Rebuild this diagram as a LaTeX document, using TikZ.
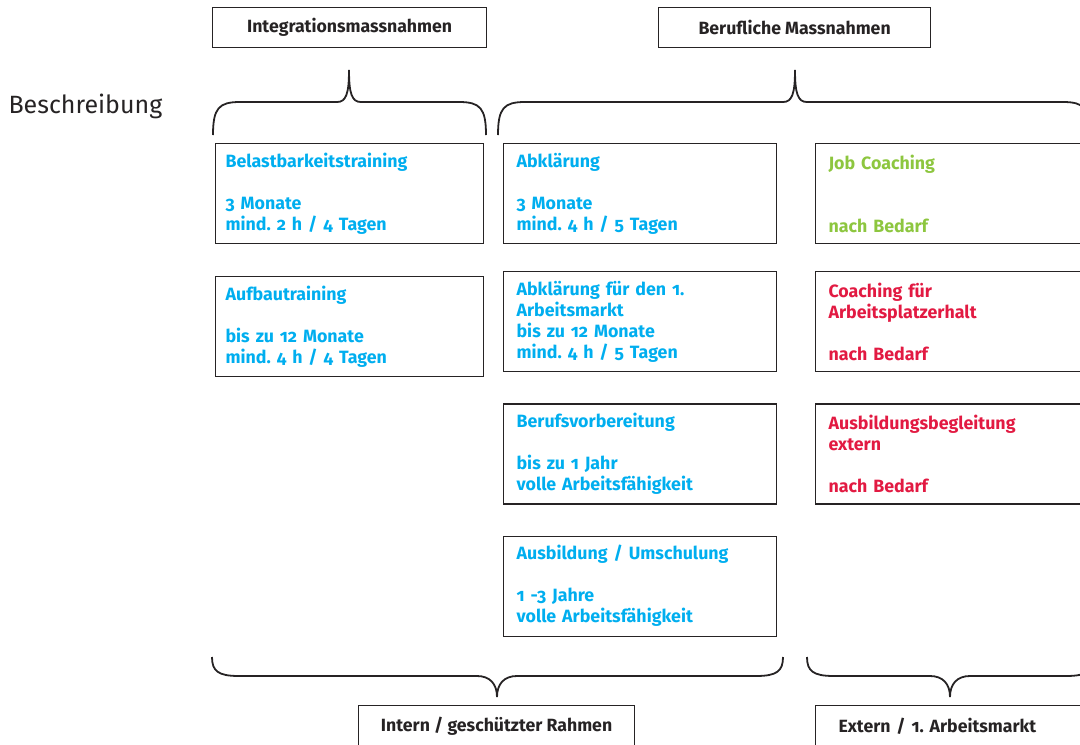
\documentclass[tikz,border=0pt]{standalone}
\usepackage{fontspec}
\setmainfont{Fira Sans}[Numbers=OldStyle]
\frenchspacing
\usetikzlibrary{positioning}
\definecolor{ablau}{RGB}{0,174,239}
\definecolor{agruen}{RGB}{141,198,63}
\definecolor{arot}{RGB}{226,26,66}
\definecolor{agrau}{RGB}{38,35,36}
\tikzset{
  massnahme/.style = {draw=agrau, line width=1.2pt, anchor=north west, align=left,
    minimum height=100pt, inner xsep=13pt, inner ysep=0pt,
    font=\bfseries\fontsize{17.8}{21}\selectfont},
  intern/.style = {massnahme, text width=248pt, inner xsep=10pt, text=ablau},
  beruf/.style = {massnahme, text width=247pt, text=ablau},
  extern/.style = {massnahme, text width=247pt},
  titel/.style = {draw=agrau, line width=1.2pt, anchor=north west,
    minimum height=40pt, text=agrau, font=\bfseries\fontsize{17.7}{20}\selectfont},
  klammer/.style = {draw=agrau, line width=1.8pt}
}

\begin{document}
\begin{tikzpicture}[x=1pt, y=-1pt, node distance=31pt]
\useasboundingbox (0,0) rectangle (1080,745);
\clip (0,0) rectangle (1080,745);

% Kopf
\node [titel, minimum width=274pt] (integration) at (212,7) {Integrationsmassnahmen};
\node [titel, minimum width=272pt] (beruflich) at (658,7) {Berufliche Massnahmen};
\node [anchor=base west, text=agrau, font=\fontsize{25}{30}\selectfont]
  (beschreibung) at (5,113) {Beschreibung};

% Klammern oben
\draw [klammer] (213,135) .. controls (213,108) and (219,102) .. (240,102) -- (337,102)
  .. controls (346,102) and (349,94) .. (349,70) .. controls (349,94) and (352,102) .. (361,102)
  -- (459,102) .. controls (480,102) and (486,108) .. (486,135);
\draw [klammer] (498,135) .. controls (498,108) and (504,102) .. (525,102) -- (783,102)
  .. controls (792,102) and (795,94) .. (795,70) .. controls (795,94) and (798,102) .. (807,102)
  -- (1063,102) .. controls (1084,102) and (1090,108) .. (1090,135);

% Integrationsmassnahmen
\node [intern] (belast) at (215,143)
  {Belastbarkeitstraining\\[21pt]3 Monate\\mind. 2 h / 4 Tagen};
\node [intern, below=32pt of belast] (aufbau)
  {Aufbautraining\\[21pt]bis zu 12 Monate\\mind. 4 h / 4 Tagen};

% Berufliche Massnahmen
\node [beruf] (abklaerung) at (503,143)
  {Abklärung\\[21pt]3 Monate\\mind. 4 h / 5 Tagen};
\node [beruf, below=27pt of abklaerung] (abklaerungam)
  {Abklärung für den 1.\\Arbeitsmarkt\\bis zu 12 Monate\\mind. 4 h / 5 Tagen};
\node [beruf, below=of abklaerungam] (vorbereitung)
  {Berufsvorbereitung\\[21pt]bis zu 1 Jahr\\volle Arbeitsfähigkeit};
\node [beruf, below=of vorbereitung] (ausbildung)
  {Ausbildung / Umschulung\\[21pt]1 -3 Jahre\\volle Arbeitsfähigkeit};

% extern
\node [extern, text=agruen] (jobcoaching) at (815,143)
  {Job Coaching\\[42pt]nach Bedarf};
\node [extern, text=arot, below=27pt of jobcoaching] (coaching)
  {Coaching für\\Arbeitsplatzerhalt\\[21pt]nach Bedarf};
\node [extern, text=arot, below=of coaching] (begleitung)
  {Ausbildungsbegleitung\\extern\\[21pt]nach Bedarf};

% Klammern unten
\draw [klammer] (212,657) .. controls (212,671) and (218,676) .. (239,676) -- (477,676)
  .. controls (490,676) and (497,684) .. (497,697) .. controls (497,684) and (504,676) .. (517,676)
  -- (756,676) .. controls (777,676) and (783,671) .. (783,657);
\draw [klammer] (807,657) .. controls (807,671) and (813,676) .. (834,676) -- (930,676)
  .. controls (943,676) and (950,684) .. (950,697) .. controls (950,684) and (957,676) .. (970,676)
  -- (1066,676) .. controls (1087,676) and (1093,671) .. (1093,657);

% Fuss
\node [titel, minimum width=276pt, minimum height=42pt] (geschuetzt) at (358,705)
  {Intern / geschützter Rahmen};
\node [titel, minimum height=42pt, text width=240pt, align=left, inner xsep=23pt]
  (arbeitsmarkt) at (815,705) {Extern / 1. Arbeitsmarkt};
\end{tikzpicture}
\end{document}
